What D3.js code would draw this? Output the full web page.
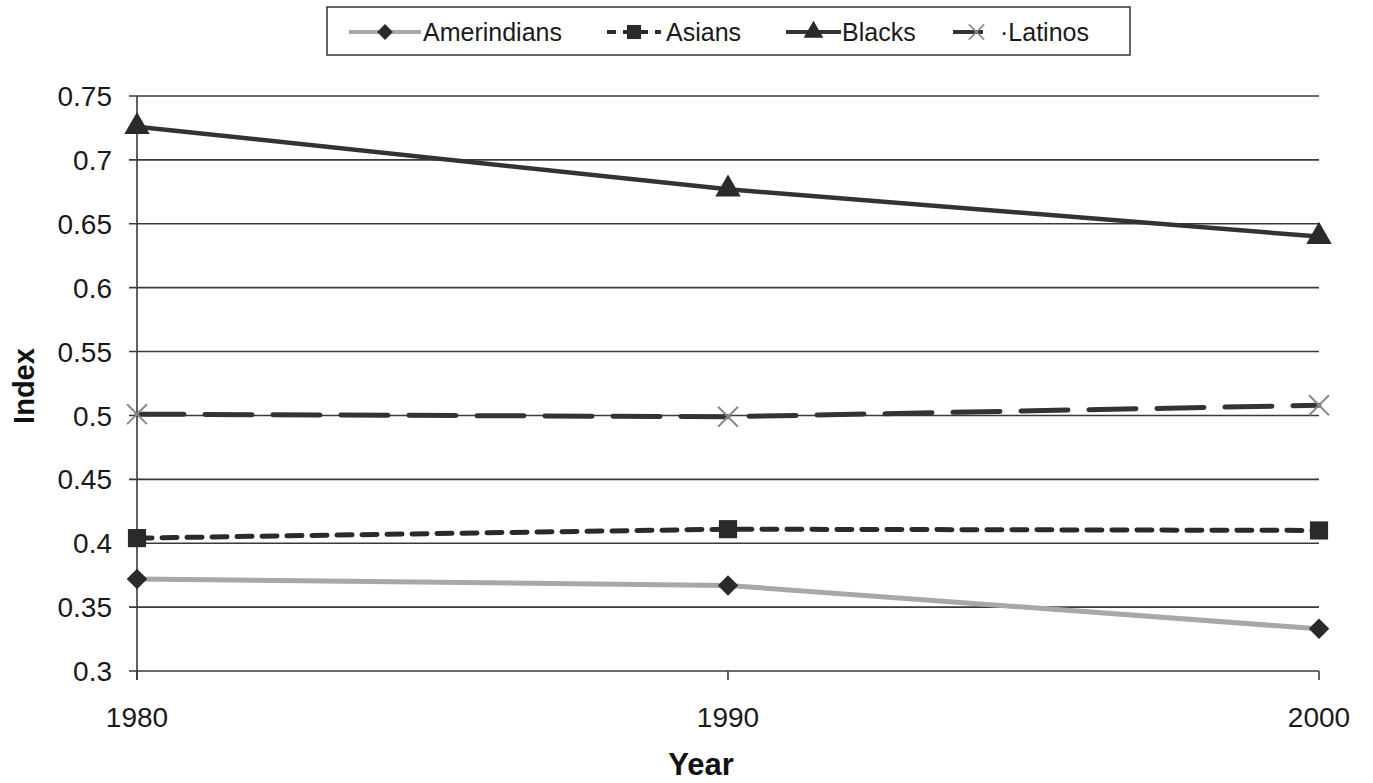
<!DOCTYPE html>
<html><head><meta charset="utf-8">
<script src="https://cdn.jsdelivr.net/npm/d3@7"></script>
<style>body{margin:0;background:#fff}svg{display:block}text{font-family:"Liberation Sans",Arial,sans-serif}</style>
</head><body><svg id="c" width="1373" height="783"></svg>
<script>
const years = [1980, 1990, 2000];
const seriesNames = ["Amerindians", "Asians", "Blacks", "Latinos"];
const amerindians = [0.372, 0.367, 0.333];
const asians = [0.404, 0.411, 0.410];
const blacks = [0.726, 0.677, 0.640];
const latinos = [0.501, 0.499, 0.508];
const yTicks = [0.3, 0.35, 0.4, 0.45, 0.5, 0.55, 0.6, 0.65, 0.7, 0.75];
const yTickLabels = ["0.3","0.35","0.4","0.45","0.5","0.55","0.6","0.65","0.7","0.75"];

const svg = d3.select("#c");
const x = d3.scaleLinear().domain([1980, 2000]).range([137, 1319]);
const y = d3.scaleLinear().domain([0.3, 0.75]).range([671, 96]);

svg.append("g").selectAll("line").data(yTicks).join("line")
  .attr("x1", 129).attr("x2", 1319).attr("y1", d => y(d)).attr("y2", d => y(d))
  .attr("stroke", "#3a3a3a").attr("stroke-width", 1.6);
svg.append("line").attr("x1", 137).attr("x2", 137).attr("y1", 96).attr("y2", 680)
  .attr("stroke", "#3a3a3a").attr("stroke-width", 1.6);
svg.append("g").selectAll("line").data(years).join("line")
  .attr("x1", d => x(d)).attr("x2", d => x(d)).attr("y1", 671).attr("y2", 680)
  .attr("stroke", "#3a3a3a").attr("stroke-width", 1.6);

svg.append("g").selectAll("text").data(yTicks).join("text")
  .attr("x", 112).attr("y", d => y(d)).attr("dy", "0.36em")
  .attr("text-anchor", "end").attr("font-size", 28).attr("fill", "#1a1a1a")
  .text((d, i) => yTickLabels[i]);
svg.append("g").selectAll("text").data(years).join("text")
  .attr("x", d => x(d)).attr("y", 727)
  .attr("text-anchor", "middle").attr("font-size", 28).attr("fill", "#1a1a1a")
  .text(d => d);
svg.append("text").attr("x", 701).attr("y", 775).attr("text-anchor", "middle")
  .attr("font-size", 31).attr("font-weight", "bold").attr("fill", "#111").text("Year");
svg.append("text").attr("transform", "translate(34,386) rotate(-90)").attr("text-anchor", "middle")
  .attr("font-size", 29).attr("font-weight", "bold").attr("fill", "#111").text("Index");

const diamond = {draw(ctx, size) { const r = Math.sqrt(size / 2); ctx.moveTo(0, -r); ctx.lineTo(r, 0); ctx.lineTo(0, r); ctx.lineTo(-r, 0); ctx.closePath(); }};

const styles = {
  Amerindians: {data: amerindians, color: "#a8a8a8", width: 5, dash: null, marker: diamond, msize: 210, mcolor: "#2a2a2a"},
  Asians: {data: asians, color: "#2a2a2a", width: 5, dash: "15,10", marker: d3.symbolSquare, msize: 330, mcolor: "#2a2a2a"},
  Blacks: {data: blacks, color: "#333", width: 4.5, dash: null, marker: d3.symbolTriangle, msize: 280, mcolor: "#2a2a2a"},
  Latinos: {data: latinos, color: "#333", width: 5, dash: "47,21", marker: d3.symbolX, msize: 260, mcolor: "#8a8a8a"}
};

const line = d3.line().x((d, i) => x(years[i])).y(d => y(d));
seriesNames.forEach(name => {
  const s = styles[name];
  svg.append("path").attr("d", line(s.data)).attr("fill", "none")
    .attr("stroke", s.color).attr("stroke-width", s.width)
    .attr("stroke-dasharray", s.dash).attr("stroke-linecap", s.dash ? "round" : "butt");
  const g = svg.append("g");
  s.data.forEach((v, i) => {
    const p = g.append("path").attr("d", d3.symbol(s.marker, s.msize)())
      .attr("transform", `translate(${x(years[i])},${y(v)})`);
    if (s.marker === d3.symbolX) p.attr("fill", "none").attr("stroke", s.mcolor).attr("stroke-width", 2);
    else p.attr("fill", s.mcolor);
  });
});

const lg = svg.append("g");
lg.append("rect").attr("x", 327).attr("y", 7).attr("width", 803).attr("height", 48)
  .attr("fill", "#fff").attr("stroke", "#333").attr("stroke-width", 1.5);
const legendX = {Amerindians: [349, 421, 423], Asians: [607, 661, 666], Blacks: [786, 841, 842], Latinos: [953, 1000, 1000]};
seriesNames.forEach(name => {
  const s = styles[name];
  const [x0, x1, tx] = legendX[name];
  const cy = 32;
  lg.append("line").attr("x1", x0).attr("x2", x1).attr("y1", cy).attr("y2", cy)
    .attr("stroke", s.color).attr("stroke-width", 4)
    .attr("stroke-dasharray", name === "Asians" ? "9,7" : (name === "Latinos" ? "30,100" : null));
  const mx = (x0 + x1) / 2;
  const m = lg.append("path").attr("transform", `translate(${mx},${cy})`)
    .attr("d", d3.symbol(s.marker, s.msize * 0.6)());
  if (s.marker === d3.symbolX) m.attr("fill", "none").attr("stroke", s.mcolor).attr("stroke-width", 1.6);
  else m.attr("fill", s.mcolor);
  lg.append("text").attr("x", tx).attr("y", cy).attr("dy", "0.36em")
    .attr("font-size", 25).attr("fill", "#1a1a1a")
    .text(name === "Latinos" ? "\u00b7Latinos" : name);
});
</script></body></html>
